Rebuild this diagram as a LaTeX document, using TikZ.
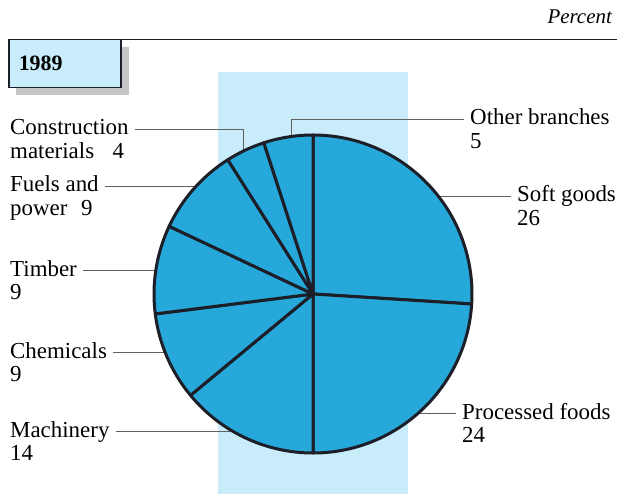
\documentclass[tikz,border=0pt]{standalone}
\usepackage{fontspec}
\setmainfont{Liberation Serif}
\usetikzlibrary{positioning}

\definecolor{pieblue}{RGB}{38,168,218}
\definecolor{paleblue}{RGB}{200,236,250}
\definecolor{inkline}{RGB}{28,30,40}

\tikzset{
  lbl/.style={font=\fontsize{23}{23}\selectfont, inner sep=0pt, text height=16bp, text depth=4bp, anchor=base west},
  nextline/.style={lbl, below right=3bp and 0bp of #1.south west},
  leader/.style={draw=gray!75!black, line width=0.8bp, shorten <=6bp},
  slice/.style={fill=pieblue, draw=inkline, line width=3bp, line join=round},
  yearbox/.style={draw=inkline, line width=1.5bp, fill=paleblue, anchor=north west,
    text width=92bp, inner xsep=10bp, minimum height=48bp, align=left,
    font=\fontsize{22}{22}\selectfont\bfseries},
}

\begin{document}
\begin{tikzpicture}[x=1bp,y=1bp]
  \useasboundingbox (0,0) rectangle (617,-494);
  % pale band behind the pie
  \fill[paleblue] (218,-72) rectangle (408,-494);

  % heading
  \draw[line width=1bp, inkline] (8,-40) -- (617,-40);
  \node[font=\fontsize{21}{21}\selectfont\itshape, inner sep=0pt, anchor=base east] (unit) at (612,-24) {Percent};
  \fill[gray!45] (16,-47) rectangle (129,-95);
  \node[yearbox] (year) at (8,-39) {1989};

  % labels
  \node[lbl] (constr) at (10,-135) {Construction};
  \node[nextline=constr] (constr-v) {materials\hspace{0.8em}4};
  \node[lbl] (fuels) at (10,-192) {Fuels and};
  \node[nextline=fuels] (fuels-v) {power\hspace{0.6em}9};
  \node[lbl] (timber) at (10,-276) {Timber};
  \node[nextline=timber] (timber-v) {9};
  \node[lbl] (chem) at (10,-358) {Chemicals};
  \node[nextline=chem] (chem-v) {9};
  \node[lbl] (mach) at (10,-437) {Machinery};
  \node[nextline=mach] (mach-v) {14};
  \node[lbl] (other) at (470,-125) {Other branches};
  \node[nextline=other] (other-v) {5};
  \node[lbl] (soft) at (517,-202) {Soft goods};
  \node[nextline=soft] (soft-v) {26};
  \node[lbl] (proc) at (462,-419) {Processed foods};
  \node[nextline=proc] (proc-v) {24};

  % where the leaders meet the rim
  \coordinate (ctr) at (313,-294);
  \path (ctr) ++(97.9:160)  coordinate (p-other)
        (ctr) ++(37.8:160)  coordinate (p-soft)
        (ctr) ++(-48:160)   coordinate (p-proc)
        (ctr) ++(238.9:160) coordinate (p-mach)
        (ctr) ++(201.3:160) coordinate (p-chem)
        (ctr) ++(171.4:160) coordinate (p-timber)
        (ctr) ++(137.5:160) coordinate (p-fuels)
        (ctr) ++(115.9:160) coordinate (p-constr);

  \draw[leader] (constr.east) -| (p-constr);
  \draw[leader] (other.west) -| (p-other);
  \draw[leader] (soft.west) -- (soft.west -| p-soft);
  \draw[leader] (proc.west) -- (proc.west -| p-proc);
  \draw[leader] (fuels.east) -- (fuels.east -| p-fuels);
  \draw[leader] (timber.east) -- (timber.east -| p-timber);
  \draw[leader] (chem.east) -- (chem.east -| p-chem);
  \draw[leader] (mach.east) -- (mach.east -| p-mach);

  % pie, clockwise from the top
  \foreach \p/\q in {0/26, 26/50, 50/64, 64/73, 73/82, 82/91, 91/95, 95/100}
    \filldraw[slice] (ctr) -- ++({90-3.6*\p}:159)
      arc[start angle={90-3.6*\p}, end angle={90-3.6*\q}, radius=159] -- cycle;
\end{tikzpicture}
\end{document}
